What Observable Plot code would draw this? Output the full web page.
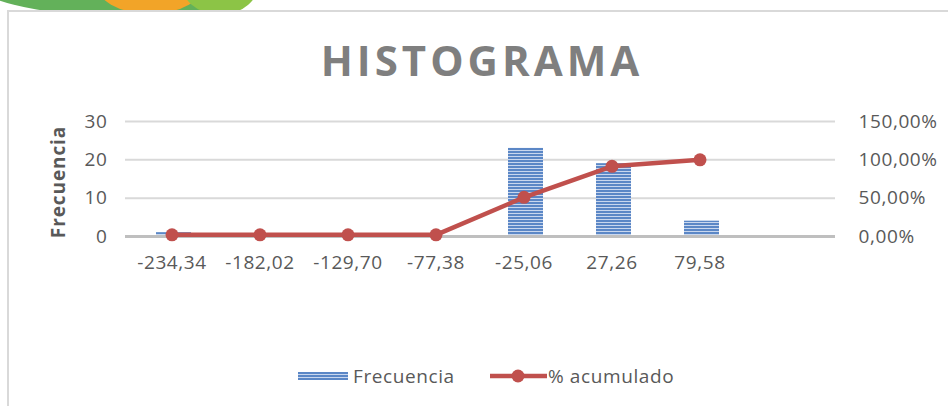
<!DOCTYPE html>
<html>
<head>
<meta charset="utf-8">
<script src="https://cdn.jsdelivr.net/npm/d3@7"></script>
<script src="https://cdn.jsdelivr.net/npm/@observablehq/plot@0.6"></script>
<style>
  html, body { margin: 0; padding: 0; background: #fff; width: 948px; height: 406px; overflow: hidden; }
  #page { position: relative; width: 948px; height: 406px; font-family: "Open Sans", sans-serif; }
  .blob { position: absolute; border-radius: 50%; }
  #card { position: absolute; left: 7px; top: 10px; width: 960px; height: 420px; background: #fff; border: 2px solid #d9d9d9; box-sizing: border-box; }
  #title { position: absolute; left: 8px; width: 948px; top: 31px; text-align: center; font-size: 42px; font-weight: 700; letter-spacing: 4px; color: #7f7f7f; }
  #chart { position: absolute; left: 0; top: 100px; }
  #ylabel { position: absolute; left: 58px; top: 182px; transform: translate(-50%, -50%) rotate(-90deg); font-size: 19px; font-weight: 700; color: #595959; white-space: nowrap; letter-spacing: 0.9px; }
  #legend { position: absolute; top: 362px; left: 0; width: 948px; height: 28px; font-size: 19px; color: #595959; letter-spacing: 0.6px; }
  .lg { position: absolute; top: 0; display: flex; align-items: center; height: 28px; }
  .sw { width: 50px; height: 8px; margin-right: 5px; background: repeating-linear-gradient(to bottom, #5b87c6 0px, #5b87c6 2px, #c9d7ee 2px, #c9d7ee 3px); }
</style>
</head>
<body>
<div id="page">
  <div class="blob" style="left:-30px; top:-60px; width:300px; height:76px; background:#63b15a;"></div>
  <div class="blob" style="left:95px; top:-50px; width:110px; height:64px; background:#f2a428;"></div>
  <div class="blob" style="left:180px; top:-55px; width:80px; height:70px; background:#8cc446;"></div>
  <div id="card"></div>
  <div id="title">HISTOGRAMA</div>
  <div id="chart"></div>
  <div id="legend">
    <div class="lg" style="left:298px;"><div class="sw"></div><span>Frecuencia</span></div>
    <div class="lg" style="left:490px;">
      <svg width="57" height="16" style="margin-right:1px"><line x1="0" y1="8" x2="57" y2="8" stroke="#c0504d" stroke-width="4.5"/><circle cx="28" cy="8" r="6.5" fill="#c0504d"/></svg>
      <span>% acumulado</span>
    </div>
  </div>
</div>
<script>
const categories = ["-234,34", "-182,02", "-129,70", "-77,38", "-25,06", "27,26", "79,58", ""];
const frequency = [1, 0, 0, 0, 23, 19, 4, 0];
const cumulativePct = [2.13, 2.13, 2.13, 2.13, 51.06, 91.49, 100];
const leftTicks = [0, 10, 20, 30];
const rightTickLabels = ["0,00%", "50,00%", "100,00%", "150,00%"];
const yLabel = "Frecuencia";

const bars = categories.map((c, i) => ({cat: c, i, f: frequency[i]}));
const line = cumulativePct.map((p, i) => ({cat: categories[i], i, p}));

const plot = Plot.plot({
  width: 948,
  height: 190,
  marginLeft: 125,
  marginRight: 113,
  marginTop: 21,
  marginBottom: 54,
  style: {fontFamily: "Open Sans, sans-serif", fontSize: "19px", color: "#595959", background: "transparent"},
  x: {type: "band", domain: categories.map((c, i) => i), paddingInner: 0.6, paddingOuter: 0.3, label: null},
  y: {domain: [0, 30], label: null},
  marks: [
    Plot.ruleY([10, 20, 30], {stroke: "#d9d9d9", strokeWidth: 2}),
    Plot.barY(bars, {x: "i", y: "f", fill: "url(#stripes)", dx: 2}),
    Plot.ruleY([0], {stroke: "#bfbfbf", strokeWidth: 3}),
    Plot.line(line, {x: "i", y: d => d.p * 30 / 150, stroke: "#c0504d", strokeWidth: 4.5}),
    Plot.dot(line, {x: "i", y: d => d.p * 30 / 150, r: 6.5, fill: "#c0504d"}),
    Plot.axisX({tickSize: 0, tickPadding: 19, tickFormat: i => categories[i], fill: "#595959", fontSize: 19}),
    Plot.axisY(leftTicks, {anchor: "left", tickSize: 0, tickPadding: 18, label: null, fill: "#595959", fontSize: 19}),
    Plot.axisY(leftTicks, {anchor: "right", tickSize: 0, tickPadding: 23, label: null, tickFormat: d => rightTickLabels[leftTicks.indexOf(d)], fill: "#595959", fontSize: 19, textAnchor: "start"})
  ]
});

const ns = "http://www.w3.org/2000/svg";
const defs = document.createElementNS(ns, "defs");
defs.innerHTML = `<pattern id="stripes" patternUnits="userSpaceOnUse" width="4" height="3">
  <rect x="0" y="0" width="4" height="2" fill="#5b87c6"/>
  <rect x="0" y="2" width="4" height="1" fill="#c9d7ee"/>
</pattern>`;
plot.insertBefore(defs, plot.firstChild);
plot.style.letterSpacing = "0.6px";
document.getElementById("chart").appendChild(plot);

const yl = document.createElement("div");
yl.id = "ylabel";
yl.textContent = yLabel;
document.getElementById("page").appendChild(yl);
</script>
</body>
</html>
